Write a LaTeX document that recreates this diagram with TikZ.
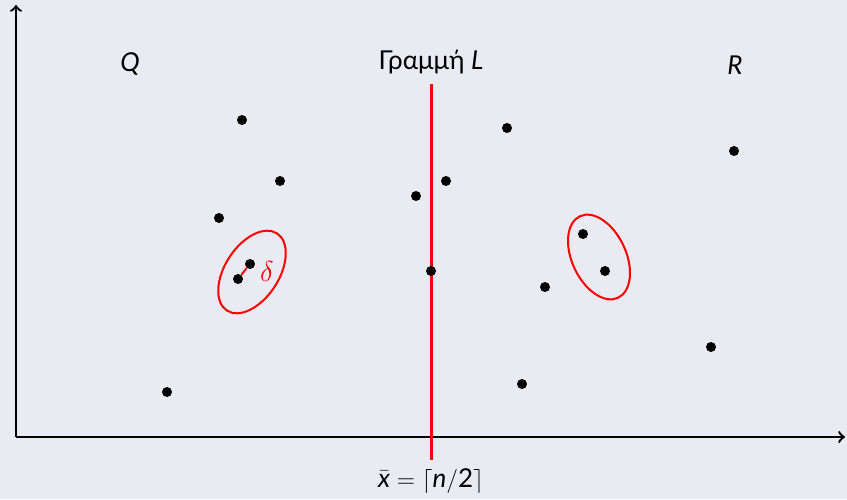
\documentclass[tikz,border=0pt]{standalone}
\usepackage{amsmath}
\usepackage{fontspec}
\setmainfont{Lato}
\definecolor{bg}{HTML}{EAEAF2}
\begin{document}
\begin{tikzpicture}[x=0.5pt,y=0.5pt,
  dot/.style={circle,fill=black,inner sep=0pt,minimum size=5pt},
  axis/.style={line width=1.2pt,->},
  lab/.style={font=\fontsize{13}{15}\selectfont},
  grp/.style={draw=red,line width=1pt}]
\fill[bg] (0,0) rectangle (847,499);
\useasboundingbox (0,0) rectangle (847,499);
% axes
\coordinate (o) at (16,62);
\coordinate (ytop) at (16,494);
\coordinate (xend) at (845,62);
\draw[axis] (o) -- (ytop);
\draw[axis] (o) -- (xend);
% line L
\coordinate (Ltop) at (431,415);
\coordinate (Lbot) at (431,39);
\draw[red,line width=1.5pt] (Ltop) -- (Lbot);
% labels
\node[lab] (Q) at (130,435) {\itshape Q};
\node[lab] (L) at (431,437) {Γραμμή \itshape L};
\node[lab] (R) at (735,434) {\itshape R};
\node[lab] (xb) at (431,18) {$\bar{\text{\itshape x}} \mathrel{=} \left\lceil \text{\itshape n}/\text{2}\right\rceil$};
% points
\node[dot] (p1) at (242,379) {};
\node[dot] (p2) at (280,318) {};
\node[dot] (p3) at (219,281) {};
\node[dot] (p4) at (250,235) {};
\node[dot] (p5) at (238,220) {};
\node[dot] (p6) at (167,107) {};
\node[dot] (p7) at (416,303) {};
\node[dot] (p8) at (446,318) {};
\node[dot] (p9) at (431,228) {};
\node[dot] (p10) at (507,371) {};
\node[dot] (p11) at (734,348) {};
\node[dot] (p12) at (583,265) {};
\node[dot] (p13) at (605,228) {};
\node[dot] (p14) at (545,212) {};
\node[dot] (p15) at (711,152) {};
\node[dot] (p16) at (522,115) {};
% closest pairs
\draw[red,line width=1pt] (p5) -- (p4);
\node[red,font=\fontsize{15}{17}\selectfont] (delta) at (267,228) {$\delta$};
\draw[grp] (252,227) ellipse[x radius=46,y radius=27,rotate=57];
\draw[grp] (599,242) ellipse[x radius=45,y radius=27,rotate=-65];
\end{tikzpicture}
\end{document}
